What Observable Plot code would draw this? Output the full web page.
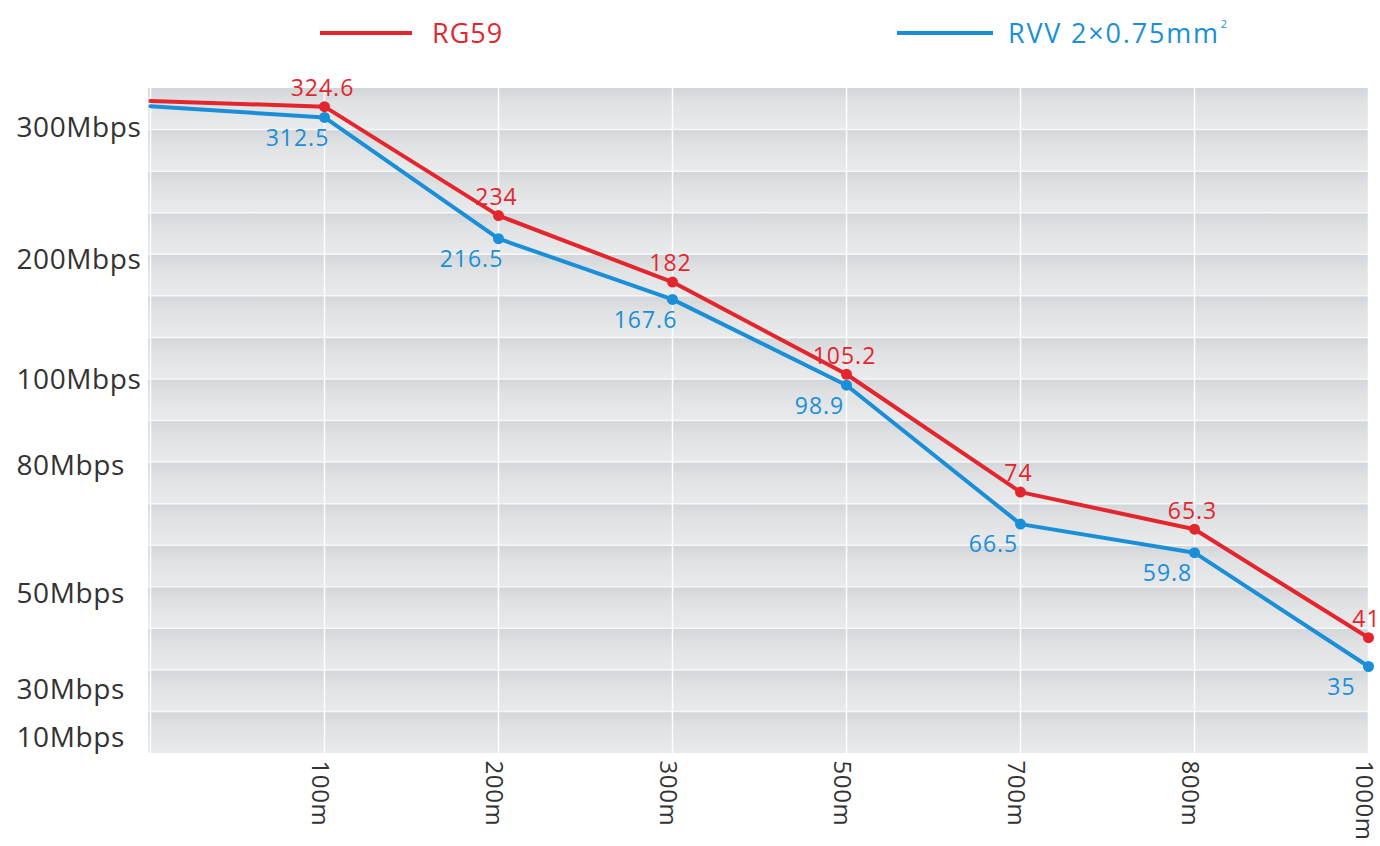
<!DOCTYPE html>
<html>
<head>
<meta charset="utf-8">
<script src="https://cdn.jsdelivr.net/npm/d3@7"></script>
<script src="https://cdn.jsdelivr.net/npm/@observablehq/plot@0.6"></script>
<style>
  body { margin: 0; background: #fff; }
  #legend { position: relative; width: 1380px; height: 66px; font-family: 'Open Sans', sans-serif; font-size: 27px; letter-spacing: 1px; }
  #legend .sw { position: absolute; top: 31px; height: 4px; }
  #legend .lt { position: absolute; top: 19px; line-height: 27px; white-space: nowrap; }
  #legend .wide { letter-spacing: 1.8px; }
  #legend .sup { font-size: 11px; position: relative; top: -15px; margin-left: 1px; }
  g[aria-label="y-axis tick label"] { letter-spacing: 0.6px; }
  g.xlab { letter-spacing: 0.6px; }
  g.vlab { letter-spacing: 1px; }
</style>
</head>
<body>
<div id="legend"></div>
<div id="chart"></div>
<script>
// ---- data ----
const distances = ["0m", "100m", "200m", "300m", "500m", "700m", "800m", "1000m"];
const rg59 = [331, 324.6, 234, 182, 105.2, 74, 65.3, 41];
const rvv = [325, 312.5, 216.5, 167.6, 98.9, 66.5, 59.8, 35];
const yTicks = [10, 30, 50, 80, 100, 200, 300];
const yTickLabels = ["10Mbps", "30Mbps", "50Mbps", "80Mbps", "100Mbps", "200Mbps", "300Mbps"];
const xTicks = distances.slice(1);
const seriesNames = ["RG59", "RVV 2×0.75mm"];
const colors = ["#e3262d", "#1a8fd7"];

// ---- legend ----
const legend = document.getElementById("legend");
legend.innerHTML = `
  <div class="sw" style="left:320px;width:92px;background:${colors[0]}"></div>
  <div class="lt" style="left:432px;color:${colors[0]}">${seriesNames[0]}</div>
  <div class="sw" style="left:897px;width:96px;background:${colors[1]}"></div>
  <div class="lt wide" style="left:1008px;color:${colors[1]}">${seriesNames[1]}<span class="sup">2</span></div>`;

// ---- table ----
const rows = (vals, s) => distances.map((d, i) => ({distance: d, value: vals[i], series: s, i}));
const rgRows = rows(rg59, seriesNames[0]);
const rvRows = rows(rvv, seriesNames[1]);

// background: horizontal gradient bands
function bandBackground(index, scales, values, dimensions) {
  const {width, height, marginTop, marginRight, marginBottom, marginLeft} = dimensions;
  const x0 = marginLeft, x1 = width - marginRight, y0 = marginTop, y1 = height - marginBottom;
  const n = 16, h = (y1 - y0) / n;
  const g = d3.create("svg:g").attr("aria-label", "background");
  const grad = g.append("defs").append("linearGradient")
    .attr("id", "band-grad").attr("x1", 0).attr("y1", 0).attr("x2", 0).attr("y2", 1);
  [[0, "#d3d6d9"], [0.35, "#dfe1e3"], [1, "#e9eaeb"]].forEach(([o, c]) =>
    grad.append("stop").attr("offset", o).attr("stop-color", c));
  for (let i = 0; i < n; i++) {
    g.append("rect").attr("x", x0).attr("y", y0 + i * h).attr("width", x1 - x0).attr("height", h)
      .attr("fill", "url(#band-grad)");
  }
  for (let i = 1; i < n; i++) {
    g.append("line").attr("x1", x0).attr("x2", x1).attr("y1", y0 + i * h).attr("y2", y0 + i * h)
      .attr("stroke", "#f6f7f8").attr("stroke-width", 1.5);
  }
  return g.node();
}

const chart = Plot.plot({
  width: 1380,
  height: 780,
  marginLeft: 148,
  marginRight: 11,
  marginTop: 22,
  marginBottom: 93,
  style: {fontFamily: "'Open Sans', sans-serif", background: "transparent", overflow: "visible"},
  x: {type: "point", domain: distances, padding: 0, label: null, axis: null},
  y: {type: "linear", domain: [10, 30, 50, 80, 100, 200, 300, 345], range: [672, 624, 528, 400, 314, 194, 62, 22], label: null},
  marks: [
    bandBackground,
    Plot.gridX({stroke: "#ffffff", strokeOpacity: 0.95, strokeWidth: 1.5}),
    Plot.axisY({ticks: yTicks, tickFormat: d => yTickLabels[yTicks.indexOf(d)], tickSize: 0, tickPadding: 132,
      textAnchor: "start", fontSize: 28, color: "#333", label: null}),
    Plot.text(xTicks, {x: d => d, text: d => d, frameAnchor: "bottom", rotate: 90, textAnchor: "start",
      lineAnchor: "middle", dy: 7, dx: -5, fontSize: 24, fill: "#333", className: "xlab"}),
    Plot.line(rvRows, {x: "distance", y: "value", stroke: colors[1], strokeWidth: 4, strokeLinejoin: "round"}),
    Plot.line(rgRows, {x: "distance", y: "value", stroke: colors[0], strokeWidth: 4, strokeLinejoin: "round"}),
    Plot.dot(rvRows.filter(d => d.i > 0), {x: "distance", y: "value", fill: colors[1], r: 5.5}),
    Plot.dot(rgRows.filter(d => d.i > 0), {x: "distance", y: "value", fill: colors[0], r: 5.5}),
    Plot.text(rvRows.filter(d => d.i > 0), {x: "distance", y: "value", text: d => String(d.value), fill: colors[1],
      fontSize: 23, dx: -27, dy: 21, className: "vlab"}),
    Plot.text(rgRows.filter(d => d.i > 0), {x: "distance", y: "value", text: d => String(d.value), fill: colors[0],
      fontSize: 23, dx: -2, dy: -18, className: "vlab"})
  ]
});
document.getElementById("chart").appendChild(chart);
</script>
</body>
</html>
